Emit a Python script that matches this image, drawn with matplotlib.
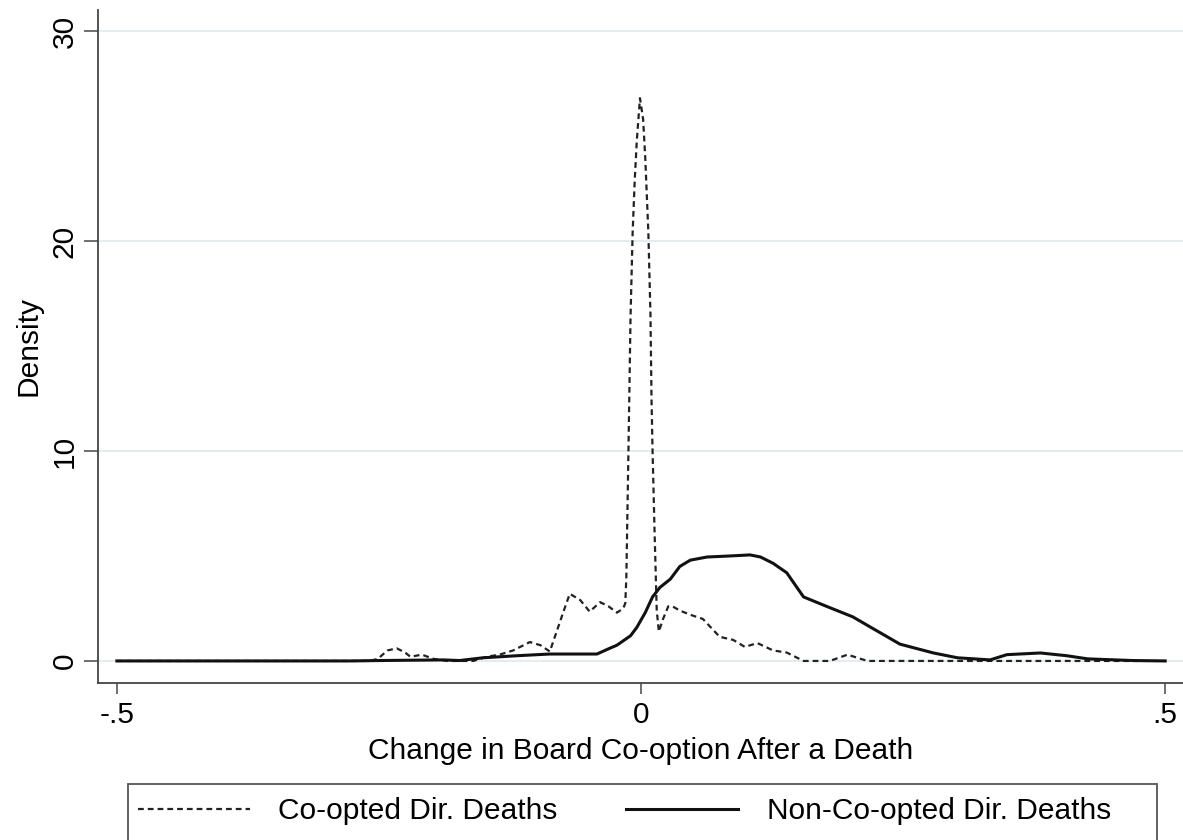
import matplotlib

matplotlib.use("Agg")
import matplotlib.pyplot as plt
from matplotlib.patches import Rectangle

plt.rcParams["font.family"] = ["Liberation Sans", "DejaVu Sans"]

# kernel density of the change in board co-option
COOPT_X = [-0.5, -0.259, -0.251, -0.242, -0.233, -0.225, -0.220, -0.209, -0.198,
           -0.185, -0.160, -0.147, -0.135, -0.122, -0.106, -0.096, -0.087, -0.075,
           -0.068, -0.058, -0.049, -0.039, -0.031, -0.023, -0.017, -0.015, -0.014,
           -0.012, -0.010, -0.008, -0.006, -0.004, -0.001, 0.002, 0.004, 0.007,
           0.009, 0.010, 0.011, 0.013, 0.015, 0.017, 0.021, 0.026, 0.030, 0.037,
           0.047, 0.059, 0.075, 0.088, 0.099, 0.111, 0.126, 0.139, 0.155, 0.180,
           0.197, 0.216, 0.5]
COOPT_Y = [0, 0, 0.1, 0.5, 0.6, 0.4, 0.2, 0.3, 0.1,
           0, 0, 0.2, 0.3, 0.5, 0.9, 0.75, 0.45, 2.2,
           3.2, 2.9, 2.35, 2.8, 2.6, 2.3, 2.5, 2.75, 4.0,
           10.0, 16.4, 20.4, 22.9, 24.8, 26.8, 25.8, 24.0, 20.4,
           16.5, 12.5, 10.0, 6.0, 2.4, 1.4, 2.0, 2.6, 2.6, 2.4,
           2.2, 2.0, 1.15, 1.0, 0.67, 0.85, 0.5, 0.4, 0, 0,
           0.3, 0, 0]

NONCOOPT_X = [-0.5, -0.278, -0.249, -0.189, -0.173, -0.151, -0.118, -0.087, -0.042,
              -0.030, -0.023, -0.010, -0.004, 0.004, 0.011, 0.018, 0.028, 0.037,
              0.047, 0.063, 0.085, 0.104, 0.114, 0.126, 0.139, 0.155, 0.177,
              0.202, 0.221, 0.247, 0.279, 0.302, 0.333, 0.349, 0.381, 0.406,
              0.426, 0.469, 0.5]
NONCOOPT_Y = [0, 0, 0.02, 0.05, 0.02, 0.15, 0.25, 0.33, 0.33,
              0.6, 0.75, 1.2, 1.6, 2.3, 3.05, 3.5, 3.9, 4.5,
              4.8, 4.95, 5.0, 5.05, 4.95, 4.65, 4.2, 3.05, 2.6,
              2.1, 1.55, 0.8, 0.38, 0.15, 0.05, 0.3, 0.38, 0.25,
              0.1, 0.02, 0]

XTICKS = [-0.5, 0, 0.5]
XTICKLABELS = ["-.5", "0", ".5"]
YTICKS = [0, 10, 20, 30]

FS = 21.5
GRID = "#e3edf0"
W, H = 1183, 840

fig = plt.figure(figsize=(W / 100, H / 100), dpi=100)
ax = fig.add_axes([98 / W, 1 - 683 / H, 1 - 98 / W, (683 - 10) / H])

for y in YTICKS:
    ax.axhline(y, color=GRID, lw=1.4, zorder=0)

ax.plot(COOPT_X, COOPT_Y, color="#222222", lw=1.6, ls=(0, (2.6, 1.8)),
        label="Co-opted Dir. Deaths")
ax.plot(NONCOOPT_X, NONCOOPT_Y, color="#111111", lw=2.2,
        label="Non-Co-opted Dir. Deaths")

ax.set_xlim(-0.518, 0.517)
ax.set_ylim(-1.05, 31.0)
ax.set_xticks(XTICKS)
ax.set_xticklabels(XTICKLABELS)
ax.set_yticks(YTICKS)
ax.set_yticklabels([str(v) for v in YTICKS], rotation=90, va="center")

for side in ["top", "right"]:
    ax.spines[side].set_visible(False)
for side in ["left", "bottom"]:
    ax.spines[side].set_color("#444444")
    ax.spines[side].set_linewidth(1.3)

ax.tick_params(axis="x", length=8, width=1.2, color="#555555", labelsize=FS, pad=5)
ax.tick_params(axis="y", length=10, width=1.2, color="#555555", labelsize=FS, pad=4)

ax.set_xlabel("Change in Board Co-option After a Death", fontsize=FS, labelpad=6)
ax.set_ylabel("Density", fontsize=FS, labelpad=6)

# legend frame runs off the bottom edge, as in the source image
fig.patches.append(
    Rectangle((128 / W, -0.05), (1157 - 128) / W, 0.05 + 1 - 784 / H,
              transform=fig.transFigure, fill=False, edgecolor="#555555", lw=1.3)
)

handles, labels = ax.get_legend_handles_labels()
fig.legend(
    handles,
    labels,
    loc="center left",
    bbox_to_anchor=(138 / W, 1 - 811 / H),
    ncol=2,
    fontsize=FS,
    frameon=False,
    handlelength=3.75,
    handletextpad=0.95,
    columnspacing=2.3,
    borderpad=0,
    borderaxespad=0,
)

fig.savefig("out.png", dpi=100, facecolor="white")
